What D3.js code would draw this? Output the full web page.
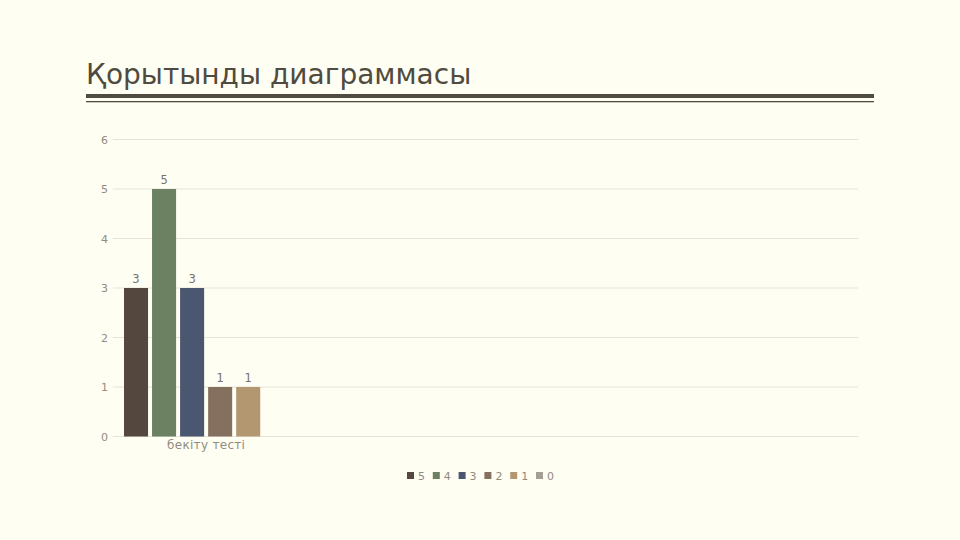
<!DOCTYPE html>
<html lang="kk">
<head>
  <meta charset="utf-8">
  <title>Қорытынды диаграммасы</title>
  <style>
    html, body { margin: 0; padding: 0; background: #fffef3; }
    svg { display: block; font-family: "DejaVu Sans", sans-serif; }
  </style>
</head>
<body>
  <div id="chart"></div>
  <script src="https://d3js.org/d3.v7.min.js"></script>
  <script>
    // categories (only the first has a name and data)
    const categories = ['бекіту тесті', 'c2', 'c3', 'c4'];
    const categoryLabels = ['бекіту тесті', '', '', ''];
    // series = grades
    const seriesNames = ['5', '4', '3', '2', '1', '0'];
    const seriesColors = ['#54473e', '#6b8161', '#4b5670', '#85705f', '#b39770', '#a39f95'];
    const seriesValues = [[3], [5], [3], [1], [1], [0]];
    const yTicks = [0, 1, 2, 3, 4, 5, 6];

    const width = 960;
    const height = 540;
    const margin = { top: 139.5, right: 102, bottom: 103.5, left: 113 };
    const labelColor = '#8f8c82';

    const svg = d3.select('#chart').append('svg')
      .attr('width', width)
      .attr('height', height)
      .attr('viewBox', [0, 0, width, height]);

    // title and double rule
    svg.append('text')
      .attr('x', 86)
      .attr('y', 84)
      .attr('fill', '#4f4b40')
      .attr('font-size', 28)
      .text('Қорытынды диаграммасы');
    svg.append('rect').attr('x', 86).attr('y', 94).attr('width', 788).attr('height', 4).attr('fill', '#4f4b40');
    svg.append('rect').attr('x', 86).attr('y', 101).attr('width', 788).attr('height', 1.3).attr('fill', '#4f4b40');

    const x = d3.scaleBand()
      .domain(categories)
      .range([margin.left, width - margin.right]);
    const gap = 22;
    const xs = d3.scaleBand()
      .domain(seriesNames)
      .range([gap / 2, x.bandwidth() - gap / 2])
      .paddingInner(4 / 28);
    const y = d3.scaleLinear()
      .domain([0, 6])
      .range([height - margin.bottom, margin.top]);

    // grid
    svg.append('g')
      .selectAll('line')
      .data(yTicks)
      .join('line')
      .attr('x1', margin.left)
      .attr('x2', width - margin.right)
      .attr('y1', d => y(d))
      .attr('y2', d => y(d))
      .attr('stroke', '#e6e4d8')
      .attr('stroke-width', 1);

    const yAxis = svg.append('g')
      .attr('transform', `translate(${margin.left},0)`)
      .call(d3.axisLeft(y).tickValues(yTicks).tickFormat(d3.format('d')).tickSize(0).tickPadding(5));
    yAxis.select('.domain').remove();
    yAxis.selectAll('text').attr('fill', labelColor).attr('font-size', 11).attr('font-family', 'DejaVu Sans');

    const xAxis = svg.append('g')
      .attr('transform', `translate(0,${y(0)})`)
      .call(d3.axisBottom(x).tickSize(0).tickPadding(4).tickFormat((d, i) => categoryLabels[i]));
    xAxis.select('.domain').remove();
    xAxis.selectAll('text').attr('fill', labelColor).attr('font-size', 12).attr('letter-spacing', 0.3).attr('font-family', 'DejaVu Sans');

    // bars
    const rows = [];
    seriesNames.forEach((s, si) => {
      seriesValues[si].forEach((v, ci) => {
        rows.push({ series: s, color: seriesColors[si], cat: categories[ci], value: v });
      });
    });

    const g = svg.append('g');
    g.selectAll('rect')
      .data(rows.filter(d => d.value > 0))
      .join('rect')
      .attr('x', d => x(d.cat) + xs(d.series))
      .attr('y', d => y(d.value))
      .attr('width', xs.bandwidth())
      .attr('height', d => y(0) - y(d.value))
      .attr('fill', d => d.color);

    g.selectAll('text')
      .data(rows.filter(d => d.value > 0))
      .join('text')
      .attr('x', d => x(d.cat) + xs(d.series) + xs.bandwidth() / 2)
      .attr('y', d => y(d.value) - 5)
      .attr('text-anchor', 'middle')
      .attr('fill', '#75726a')
      .attr('font-size', 11.5)
      .text(d => d.value);

    // legend
    const legend = svg.append('g').attr('transform', 'translate(407,476)');
    const item = legend.selectAll('g')
      .data(seriesNames)
      .join('g')
      .attr('transform', (d, i) => `translate(${i * 25.8},0)`);
    item.append('rect')
      .attr('x', 0).attr('y', -4)
      .attr('width', 7).attr('height', 7)
      .attr('fill', (d, i) => seriesColors[i]);
    item.append('text')
      .attr('x', 11)
      .attr('y', 4)
      .attr('fill', labelColor)
      .attr('font-size', 11)
      .text(d => d);
  </script>
</body>
</html>
